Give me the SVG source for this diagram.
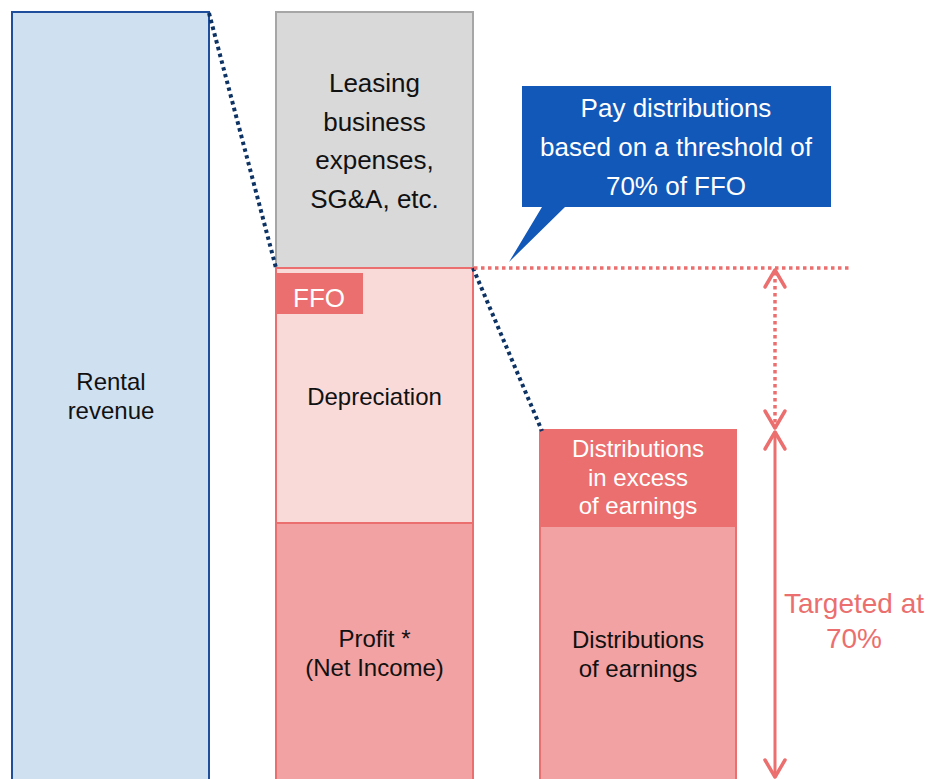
<svg xmlns="http://www.w3.org/2000/svg" width="928" height="779" viewBox="0 0 928 779">
<style>
text{font-family:"Liberation Sans",Arial,sans-serif;text-anchor:middle}
.t24{font-size:24px;fill:#111}
.t26{font-size:26px;fill:#111}
.w{fill:#fff}
.red{fill:#eb6f6e}
.navy{stroke:#0d3364;stroke-width:4;stroke-dasharray:3.5 3.5;fill:none}
.rdot{stroke:#eb6f6e;stroke-width:3.5;stroke-dasharray:3.5 3.5;fill:none}
.rline{stroke:#eb6f6e;stroke-width:3;fill:none}
.head{stroke:#eb6f6e;stroke-width:3.5;fill:none;stroke-linecap:round;stroke-linejoin:round}
</style>
<rect width="928" height="779" fill="#fff"/>
<g id="rental">
<rect x="12" y="12" width="197" height="780" fill="#cfe0f1" stroke="#1f4e9c" stroke-width="2"/>
<text class="t24" x="111" y="390">Rental</text>
<text class="t24" x="111" y="418.5">revenue</text>
</g>
<g id="leasing">
<rect x="276" y="12" width="197" height="256" fill="#d9d9d9" stroke="#a6a6a6" stroke-width="2"/>
<text class="t26" x="374.5" y="92">Leasing</text>
<text class="t26" x="374.5" y="130.5">business</text>
<text class="t26" x="374.5" y="169">expenses,</text>
<text class="t26" x="374.5" y="207.5">SG&amp;A, etc.</text>
</g>
<g id="depreciation">
<rect x="276" y="268" width="197" height="255" fill="#f9dad9" stroke="#eb6f6e" stroke-width="2"/>
<text class="t24" x="374.5" y="405">Depreciation</text>
</g>
<g id="ffo">
<rect x="277" y="273" width="86" height="41" fill="#eb6f6e"/>
<text class="w" x="319" y="307" style="font-size:26px">FFO</text>
</g>
<g id="profit">
<rect x="276" y="523" width="197" height="270" fill="#f2a2a2" stroke="#eb6f6e" stroke-width="2"/>
<text class="t24" x="374.5" y="647">Profit *</text>
<text class="t24" x="374.5" y="676">(Net Income)</text>
</g>
<g id="excess">
<rect x="539" y="429" width="198" height="97" fill="#eb6f6e"/>
<text class="w" x="638" y="457" style="font-size:24px">Distributions</text>
<text class="w" x="638" y="485.5" style="font-size:24px">in excess</text>
<text class="w" x="638" y="514" style="font-size:24px">of earnings</text>
</g>
<g id="earnings">
<rect x="540" y="526" width="196" height="270" fill="#f2a2a2" stroke="#eb6f6e" stroke-width="2"/>
<text class="t24" x="638" y="648">Distributions</text>
<text class="t24" x="638" y="677">of earnings</text>
</g>
<g id="callout">
<path d="M522,86 H831 V207 H565 L509,262 L542,207 H522 Z" fill="#1258b9"/>
<text class="w" x="676" y="117" style="font-size:26px">Pay distributions</text>
<text class="w" x="676" y="156" style="font-size:26px">based on a threshold of</text>
<text class="w" x="676" y="195" style="font-size:26px">70% of FFO</text>
</g>
<g id="target">
<text class="red" x="854" y="613" style="font-size:28px">Targeted at</text>
<text class="red" x="854" y="648" style="font-size:28px">70%</text>
</g>
<g id="connectors">
<line class="navy" x1="209" y1="13" x2="276" y2="268"/>
<line class="navy" x1="473" y1="268" x2="542" y2="431"/>
<line class="rdot" x1="474" y1="268" x2="850" y2="268"/>
<line class="rdot" x1="775" y1="272" x2="775" y2="426"/>
<polyline class="head" points="765,287 775,270 785,287"/>
<polyline class="head" points="765,411 775,428 785,411"/>
<line class="rline" x1="775" y1="434" x2="775" y2="776"/>
<polyline class="head" points="765,449 775,432 785,449"/>
<polyline class="head" points="765,760 775,777 785,760"/>
</g>
</svg>
